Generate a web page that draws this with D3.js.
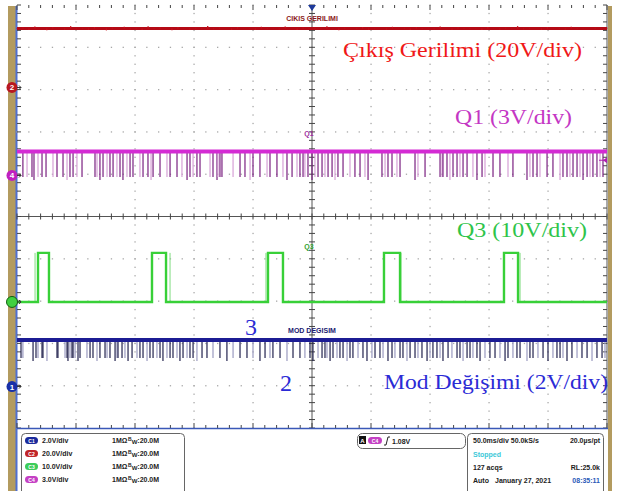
<!DOCTYPE html>
<html><head><meta charset="utf-8">
<script src="https://cdn.jsdelivr.net/npm/d3@7"></script>
<style>body{margin:0;background:#fff}svg{display:block}</style>
</head><body>
<svg id="c" width="632" height="491"></svg>
<script>
// ---------- DATA ----------
const channelIds = ["C1", "C2", "C3", "C4"];
const voltsPerDiv = [2, 20, 10, 3];                 // C1 Mod, C2 Çıkış, C3 Q3, C4 Q1
const offsetDiv = [-4.02, 3.05, -2.02, 0.97];       // ground level position (divisions from centre)
const scaleLabels = ["2.0V/div", "20.0V/div", "10.0V/div", "3.0V/div"];
const coupling = ["1MΩ", "1MΩ", "1MΩ", "1MΩ"];
const bwLimits = ["20.0M", "20.0M", "20.0M", "20.0M"];
const bigLabels = ["Mod Değişimi (2V/div)", "Çıkış Gerilimi (20V/div)", "Q3 (10V/div)", "Q1 (3V/div)"];
const smallLabels = ["MOD DEGISIM", "CIKIS GERILIMI", "Q3", "Q1"];
const timeRangeMs = [0, 500];    // 50 ms/div x 10 div
const divRange = [-5, 5];

// C2 output voltage (V), sampled evenly across the record
const outputLevel = 27.9;
const outputVolts = [27.6,28.4,27.2,28.8,27.9,27.1,28.5,28.0,27.4,29.0,27.7,28.2,27.3,28.6,27.8,27.0,28.3,27.9,28.7,27.5,
  28.1,27.2,28.9,27.6,28.4,27.8,27.1,28.6,28.0,27.4,28.2,27.7,29.1,27.5,28.3,27.9,27.2,28.5,27.8,28.1,
  27.3,28.7,27.6,28.0,27.4,28.8,27.9,27.2,28.4,27.7,28.2,27.5,28.9,27.8,27.1,28.3,28.0,27.6,28.6,27.3,
  28.1,27.9,27.4,28.7,27.8,28.2,27.2,28.5,27.7,28.0,27.5,28.8,27.9,27.3,28.4,27.6,28.1,27.8,27.2,28.6,
  28.0,27.4,28.3,27.7,29.0,27.5,28.2,27.9,27.3,28.5,27.8,28.1,27.4,28.7,27.6,28.0,27.9,28.3,27.5,28.2];

// C4 Q1: high level, low level (V) and times (ms) of the low-going pulses
const q1High = 1.7, q1Low = -0.1;
const q1Dips = [5,8.5,12.7,14.4,17.8,21.2,24.6,30.5,33.9,39,42.4,44.9,47.5,50.8,55.1,66.1,67.8,70.3,72.9,76.3,
  78.8,81.4,84.7,87.3,89.8,93.2,95.8,98.3,104.2,106.8,111,113.6,115.3,121.2,127.1,129.7,135.6,139.8,144.1,146.6,
  149.2,152.5,155.1,163.6,166.1,169.5,170.3,172,173.7,183.1,189,193.2,197.5,200,205.9,211.9,214.4,220.3,225.4,228.8,
  233.1,237.3,239.8,242.4,244,246.6,250,252.5,255.1,258.5,261,263.6,267,269.5,272,276.3,282.2,286.4,290.7,294.9,
  297.5,309.3,311.9,314.4,317.8,322,324.6,337.3,339.8,345.8,358.5,360.2,361,364.4,366.9,369.5,372.9,375.4,378,381.4,
  386.4,389.8,394.1,396.6,403.4,409.3,416.1,420.3,432.2,434.7,437.3,440.7,443.2,449.2,454.2,460.2,462.7,466.1,468.6,471.2,
  474.6,477.1,479.7,483.1,485.6,488.1,491.5,494.1,496.6];

// C3 Q3: pulses (ms)
const q3High = 11.6, q3Low = 0;
const q3Rise = [17.8, 114.4, 212.7, 311, 412.7];
const q3Fall = [27.1, 126.3, 225.4, 324.6, 424.6];
const q3Ghost = [15.3, 129.7, 211, 325.4, 426.3];

// C1 Mod: high, low (V) and dip times (ms)
const modHigh = 2.2, modLow = 1.35;
const modDips = [3.4,5,13.6,16.1,17.8,21.2,22,25.4,33.9,34.7,40.7,42.4,43.2,44.9,46.6,47.5,49.2,51.7,53.4,59.3,
  61.9,64.4,67.8,70.3,74.6,76.3,78.8,83.1,84.7,85.6,89,91.5,94.1,97.5,101.7,104.2,106.8,110.2,112.7,115.3,
  118.6,121.2,123.7,127.1,129.7,132.2,135.6,138.1,140.7,144.1,146.6,149.2,152.5,156.8,161,166.1,172,177.9,183.1,189,
  194.9,200,205.9,210.2,214.4,216.9,222.9,228.8,233.9,239.8,244,248.3,250.8,255.1,258.5,261,262.7,265.3,267.8,271.2,
  273.7,276.3,279.7,282.2,284.7,289,293.2,296.6,300.8,303.4,307.6,310.2,314.4,317.8,320.3,324.6,327.1,330.5,333.1,337.3,
  339.8,343.2,347.5,350,352.5,355.9,358.5,361,365.3,368.6,372.9,375.4,378,381.4,383.9,386.4,389.8,392.4,396.6,400.8,
  405.1,409.3,413.6,416.1,420.3,423.7,426.3,432.2,434.7,437.3,441.5,445.8,450,454.2,457.6,460.2,462.7,466.1,470.3,474.6,
  478.8,483.1,487.3,491.5,495.8,498.3];

const triggerLevel = 1.08; // V on C4
const horizInfo = ["50.0ms/div", "50.0kS/s", "20.0µs/pt"];
const acqInfo = ["Stopped", "127 acqs", "RL:25.0k", "Auto", "January 27, 2021", "08:35:11"];

// ---------- DRAW ----------
const svg = d3.select("#c");
const x = d3.scaleLinear().domain(timeRangeMs).range([17, 607]);
const yd = d3.scaleLinear().domain(divRange).range([428, 5]);
const yv = (ch, v) => yd(offsetDiv[ch] + v / voltsPerDiv[ch]);

// frame borders
svg.append("rect").attr("x", 8).attr("y", 6).attr("width", 8).attr("height", 485).attr("fill", "#b39b5f");
svg.append("rect").attr("x", 15.5).attr("y", 6).attr("width", 2).attr("height", 485).attr("fill", "#4f6fd0");
svg.append("rect").attr("x", 608).attr("y", 6).attr("width", 4).attr("height", 485).attr("fill", "#b39b5f");

// graticule dots
const g = svg.append("g");
const xMinor = d3.range(0, 500.01, 10), yMinor = d3.range(-5, 5.01, 0.2);
[50,100,150,200,300,350,400,450].forEach(t => {
  g.selectAll(null).data(yMinor).join("rect")
    .attr("x", x(t) - 0.6).attr("y", d => yd(d) - 0.6).attr("width", 1.3).attr("height", 1.3).attr("fill", "#a8a8a8");
});
[-4,-3,-2,-1,1,2,3,4].forEach(dv => {
  g.selectAll(null).data(xMinor).join("rect")
    .attr("x", d => x(d) - 0.6).attr("y", yd(dv) - 0.6).attr("width", 1.3).attr("height", 1.3).attr("fill", "#a8a8a8");
});
// centre axes
g.append("line").attr("x1", x(0)).attr("x2", x(500)).attr("y1", yd(0)).attr("y2", yd(0)).attr("stroke", "#555").attr("stroke-width", 1);
g.append("line").attr("x1", x(250)).attr("x2", x(250)).attr("y1", yd(5)).attr("y2", yd(-5)).attr("stroke", "#555").attr("stroke-width", 1);
g.selectAll(null).data(xMinor).join("line")
  .attr("x1", d => x(d)).attr("x2", d => x(d)).attr("y1", yd(0) - 3).attr("y2", yd(0) + 3).attr("stroke", "#444");
g.selectAll(null).data(yMinor).join("line")
  .attr("y1", d => yd(d)).attr("y2", d => yd(d)).attr("x1", x(250) - 3).attr("x2", x(250) + 3).attr("stroke", "#444");
// edges
g.selectAll(null).data(xMinor).join("line")
  .attr("x1", d => x(d)).attr("x2", d => x(d)).attr("y1", yd(5)).attr("y2", d => yd(5) + (d % 50 === 0 ? 5 : 3)).attr("stroke", "#444");
g.selectAll(null).data(xMinor).join("line")
  .attr("x1", d => x(d)).attr("x2", d => x(d)).attr("y1", yd(-5)).attr("y2", d => yd(-5) - (d % 50 === 0 ? 5 : 3)).attr("stroke", "#444");
g.selectAll(null).data(yMinor).join("line")
  .attr("y1", d => yd(d)).attr("y2", d => yd(d)).attr("x1", x(0)).attr("x2", x(0) + 4).attr("stroke", "#444");
g.selectAll(null).data(yMinor).join("line")
  .attr("y1", d => yd(d)).attr("y2", d => yd(d)).attr("x1", x(500)).attr("x2", x(500) - 4).attr("stroke", "#444");
g.append("line").attr("x1", x(500)).attr("x2", x(500)).attr("y1", yd(5)).attr("y2", yd(-5)).attr("stroke", "#555");
g.append("line").attr("x1", x(0)).attr("x2", x(500) + 1).attr("y1", yd(-5) + 0.5).attr("y2", yd(-5) + 0.5).attr("stroke", "#3a58b8").attr("stroke-width", 1.5);
// trigger position marker
svg.append("path").attr("d", `M${x(250)-4},${yd(5)} L${x(250)+4},${yd(5)} L${x(250)},${yd(5)+6} Z`).attr("fill", "#1e3a9a");

// ---- C2 output voltage ----
const lineGen = d3.line();
const n = outputVolts.length;
svg.append("path")
  .attr("d", lineGen([[x(0), yv(1, outputLevel)], [x(500), yv(1, outputLevel)]]))
  .attr("stroke", "#b40a16").attr("stroke-width", 3);
svg.selectAll(null).data(outputVolts).join("line")
  .attr("x1", (d, i) => x(i * 500 / (n - 1))).attr("x2", (d, i) => x(i * 500 / (n - 1)))
  .attr("y1", yv(1, outputLevel)).attr("y2", d => yv(1, d))
  .attr("stroke", "#c8101c").attr("stroke-width", 1.3);

// ---- C4 Q1 ----
svg.selectAll(null).data(q1Dips).join("line")
  .attr("x1", d => x(d)).attr("x2", d => x(d))
  .attr("y1", yv(3, q1High)).attr("y2", (d, i) => yv(3, q1Low) + (i % 7 === 3 ? 3 : 0))
  .attr("stroke", (d, i) => i % 3 === 1 ? "#d6a0d6" : "#7a2080").attr("stroke-width", 1.2);
svg.append("path")
  .attr("d", lineGen([[x(0), yv(3, q1High)], [x(500), yv(3, q1High)]]))
  .attr("stroke", "#d42ad4").attr("stroke-width", 4);

// ---- C3 Q3 ----
svg.selectAll(null).data(q3Ghost).join("line")
  .attr("x1", d => x(d)).attr("x2", d => x(d))
  .attr("y1", yv(2, q3High)).attr("y2", yv(2, q3Low))
  .attr("stroke", "#80dc80").attr("stroke-width", 1);
const q3Pts = [[x(0), yv(2, q3Low)]];
q3Rise.forEach((r, i) => {
  q3Pts.push([x(r), yv(2, q3Low)], [x(r), yv(2, q3High)], [x(q3Fall[i]), yv(2, q3High)], [x(q3Fall[i]), yv(2, q3Low)]);
});
q3Pts.push([x(500), yv(2, q3Low)]);
svg.append("path").attr("d", lineGen(q3Pts)).attr("fill", "none")
  .attr("stroke", "#38d038").attr("stroke-width", 2.4);

// ---- C1 Mod ----
svg.selectAll(null).data(modDips).join("line")
  .attr("x1", d => x(d)).attr("x2", d => x(d))
  .attr("y1", yv(0, modHigh)).attr("y2", (d, i) => yv(0, modLow) + (i % 5 === 2 ? 3 : 0))
  .attr("stroke", (d, i) => i % 3 === 1 ? "#9a9ac0" : "#22224e").attr("stroke-width", 1.2);
svg.append("path")
  .attr("d", lineGen([[x(0), yv(0, modHigh)], [x(500), yv(0, modHigh)]]))
  .attr("stroke", "#1c1c94").attr("stroke-width", 4);

// ---- channel ground markers ----
const markerCol = ["#1830a8", "#b81820", "#40d040", "#c020c0"];
channelIds.forEach((c, ch) => {
  const yy = yv(ch, 0);
  const m = svg.append("g");
  m.append("circle").attr("cx", 12).attr("cy", yy).attr("r", 5.5).attr("fill", markerCol[ch])
    .attr("stroke", ch === 2 ? "#106010" : "none").attr("stroke-width", 1);
  m.append("path").attr("d", `M17,${yy} L21,${yy} M19,${yy-2} L21,${yy} L19,${yy+2}`).attr("stroke", "#333").attr("fill", "none");
  if (ch !== 2) m.append("text").attr("x", 12).attr("y", yy + 3).attr("text-anchor", "middle")
    .attr("font-family", "Liberation Sans, Arial, sans-serif").attr("font-weight", "bold").attr("font-size", 8)
    .attr("fill", "#fff").text(c.slice(1));
});
// trigger level arrow
svg.append("path").attr("d", `M${x(500)-4},${yv(3, triggerLevel)} L${x(500)},${yv(3, triggerLevel)-3} L${x(500)},${yv(3, triggerLevel)+3} Z`).attr("fill", "#b020b0");
svg.append("line").attr("x1", x(500)-8).attr("x2", x(500)).attr("y1", yv(3, triggerLevel)).attr("y2", yv(3, triggerLevel)).attr("stroke", "#b020b0");

// ---- small on-screen labels ----
const smallCol = ["#1a1a70", "#8a1a20", "#30a030", "#a030a0"];
const smallPos = [[x(250), yv(0, modHigh) - 7], [x(250), yv(1, outputLevel) - 7], [x(250) - 3, yv(2, q3High) - 4], [x(250) - 3, yv(3, q1High) - 15]];
smallLabels.forEach((s, ch) => {
  svg.append("text").attr("x", smallPos[ch][0]).attr("y", smallPos[ch][1])
    .attr("text-anchor", "middle")
    .attr("font-family", "Liberation Sans Narrow, Arial Narrow, Liberation Sans, sans-serif")
    .attr("font-weight", "bold").attr("font-size", 7).attr("fill", smallCol[ch]).text(s);
});

// ---- big annotations ----
const serif = "Liberation Serif, Times New Roman, serif";
const bigCol = ["#2b2bd6", "#f01818", "#2ec44a", "#c436c4"];
const bigPos = [[384, 389], [343, 57], [457, 237], [455, 124]];
const bigW = [224, 239, 130, 117];
bigLabels.forEach((s, ch) => {
  svg.append("text").attr("x", bigPos[ch][0]).attr("y", bigPos[ch][1])
    .attr("font-family", serif).attr("font-size", 21).attr("fill", bigCol[ch])
    .attr("textLength", bigW[ch]).attr("lengthAdjust", "spacingAndGlyphs").text(s);
});
svg.append("text").attr("x", 245).attr("y", 335).attr("font-family", serif).attr("font-size", 24).attr("fill", "#2b2bd6").text("3");
svg.append("text").attr("x", 280).attr("y", 391).attr("font-family", serif).attr("font-size", 24).attr("fill", "#2b2bd6").text("2");

// ---- bottom info panel ----
const sans = "Liberation Sans, Arial, sans-serif";
const pan = svg.append("g").attr("font-family", sans).attr("font-weight", "bold").attr("font-size", 7).attr("fill", "#222");
pan.append("rect").attr("x", 21.5).attr("y", 433.5).attr("width", 163).attr("height", 70).attr("rx", 4).attr("fill", "none").attr("stroke", "#666");
const rowY = [443, 456, 469, 482];
const pillCol = ["#1a2a9c", "#c02428", "#3ccc5a", "#c440c4"];
channelIds.forEach((c, i) => {
  pan.append("rect").attr("x", 25).attr("y", rowY[i] - 6).attr("width", 13).attr("height", 7).attr("rx", 3.5).attr("fill", pillCol[i]);
  pan.append("text").attr("x", 31.5).attr("y", rowY[i] - 0.5).attr("text-anchor", "middle").attr("font-size", 5).attr("fill", "#fff").text(c);
  pan.append("text").attr("x", 42).attr("y", rowY[i]).text(scaleLabels[i]);
  pan.append("text").attr("x", 112).attr("y", rowY[i]).text(coupling[i]);
  const t = pan.append("text").attr("x", 128).attr("y", rowY[i]);
  t.append("tspan").attr("font-size", 5).attr("dy", -2).text("B");
  t.append("tspan").attr("font-size", 6).attr("dy", 3).text("W");
  t.append("tspan").attr("dy", -1).text(":" + bwLimits[i]);
});
// trigger box
pan.append("rect").attr("x", 357.5).attr("y", 433.5).attr("width", 108).attr("height", 15).attr("rx", 5).attr("fill", "none").attr("stroke", "#666");
pan.append("rect").attr("x", 359).attr("y", 436).attr("width", 7).attr("height", 8).attr("fill", "#111");
pan.append("text").attr("x", 362.5).attr("y", 443).attr("text-anchor", "middle").attr("font-size", 6).attr("fill", "#fff").text("A");
pan.append("rect").attr("x", 368).attr("y", 437).attr("width", 14).attr("height", 7).attr("rx", 3.5).attr("fill", "#c440c4");
pan.append("text").attr("x", 375).attr("y", 442.5).attr("text-anchor", "middle").attr("font-size", 5).attr("fill", "#fff").text("C4");
pan.append("path").attr("d", "M384,445 L386,445 L388,437 L390,437").attr("stroke", "#222").attr("fill", "none");
pan.append("text").attr("x", 392).attr("y", 444).text(triggerLevel.toFixed(2) + "V");
// horizontal / acquisition box
pan.append("rect").attr("x", 467.5).attr("y", 433.5).attr("width", 136).attr("height", 70).attr("rx", 4).attr("fill", "none").attr("stroke", "#666");
pan.append("text").attr("x", 473).attr("y", 443).text(horizInfo[0] + " " + horizInfo[1]);
pan.append("text").attr("x", 600).attr("y", 443).attr("text-anchor", "end").text(horizInfo[2]);
pan.append("text").attr("x", 473).attr("y", 457).attr("fill", "#3cc8d8").text(acqInfo[0]);
pan.append("text").attr("x", 473).attr("y", 470).text(acqInfo[1]);
pan.append("text").attr("x", 600).attr("y", 470).attr("text-anchor", "end").text(acqInfo[2]);
pan.append("text").attr("x", 473).attr("y", 483).text(acqInfo[3]);
pan.append("text").attr("x", 495).attr("y", 483).text(acqInfo[4]);
pan.append("text").attr("x", 600).attr("y", 483).attr("text-anchor", "end").attr("fill", "#2a5ab8").text(acqInfo[5]);
</script>
</body></html>
